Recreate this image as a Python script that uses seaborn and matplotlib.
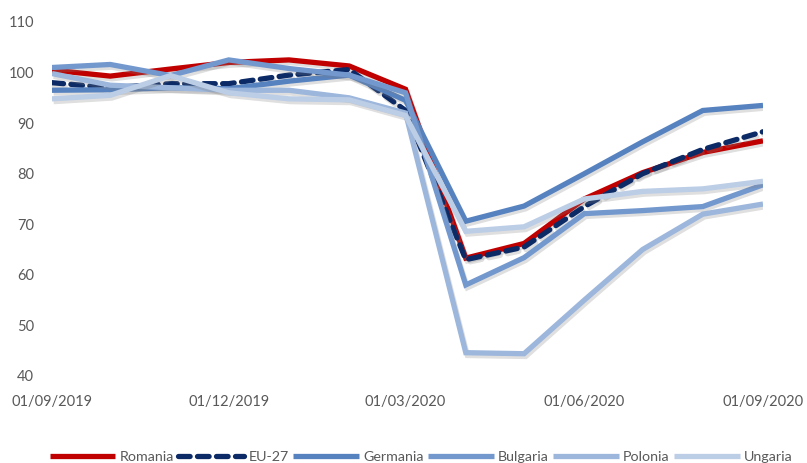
import matplotlib
matplotlib.use("Agg")
import matplotlib.pyplot as plt
import matplotlib.dates as mdates
import matplotlib.patheffects as pe
import numpy as np
import pandas as pd
import seaborn as sns

# ---- data ----
dates = pd.date_range("2019-09-01", "2020-09-01", freq="MS")
romania  = [100.5, 99.3, 100.7, 102.0, 102.5, 101.3, 96.7, 63.3, 66.2, 75.0, 80.2, 84.2, 86.5]
eu27     = [98.0, 97.0, 97.8, 97.8, 99.5, 100.6, 92.5, 63.0, 65.5, 73.5, 80.0, 84.8, 88.3]
germania = [96.5, 96.6, 97.0, 96.8, 98.3, 99.5, 94.5, 70.6, 73.6, 80.0, 86.3, 92.5, 93.5]
bulgaria = [101.0, 101.6, 99.4, 102.5, 100.8, 99.5, 96.0, 58.0, 63.4, 72.1, 72.7, 73.5, 77.8]
polonia  = [99.8, 97.5, 97.0, 96.5, 96.5, 95.0, 92.0, 44.6, 44.4, 55.0, 65.0, 72.0, 74.0]
ungaria  = [94.8, 95.5, 99.4, 96.0, 94.8, 94.6, 91.5, 68.6, 69.5, 75.0, 76.5, 77.0, 78.5]

series_names = ["Romania", "EU-27", "Germania", "Bulgaria", "Polonia", "Ungaria"]
series_values = [romania, eu27, germania, bulgaria, polonia, ungaria]
colors = ["#C00000", "#0B2A66", "#5682C0", "#7398CE", "#9CB6DC", "#BCCDE6"]
yticks = [40, 50, 60, 70, 80, 90, 100, 110]
xtick_dates = pd.to_datetime(["2019-09-01", "2019-12-01", "2020-03-01", "2020-06-01", "2020-09-01"])

df = pd.DataFrame({
    "date": np.tile(dates, len(series_names)),
    "value": np.concatenate(series_values),
    "series": np.repeat(series_names, len(dates)),
})

sns.set_style("white")
plt.rcParams["font.family"] = ["Lato", "DejaVu Sans"]

fig = plt.figure(figsize=(8.07, 4.63), dpi=100)
ax = fig.add_axes([0.0644, 0.188, 0.8811, 0.7645])

shadow = [pe.SimpleLineShadow(offset=(1.2, -2.0), shadow_color="#808080", alpha=0.25), pe.Normal()]

for name, col in zip(series_names, colors):
    sub = df[df["series"] == name]
    sns.lineplot(data=sub, x="date", y="value", ax=ax, color=col, linewidth=3.8,
                 label=name, legend=False)
    line = ax.lines[-1]
    line.set_path_effects(shadow)
    line.set_solid_capstyle("butt")
    line.set_solid_joinstyle("miter")
    if name == "EU-27":
        line.set_linestyle((0, (2.2, 1.4)))
        line.set_dash_capstyle("round")

ax.set_xlim(dates[0], dates[-1])
ax.set_ylim(40, 110)
ax.set_yticks(yticks)
ax.set_xticks(xtick_dates)
ax.xaxis.set_major_formatter(mdates.DateFormatter("%d/%m/%Y"))
ax.set_xlabel("")
ax.set_ylabel("")
for s in ax.spines.values():
    s.set_visible(False)
ax.tick_params(axis="both", length=0, colors="#595959", labelsize=10.5)
ax.tick_params(axis="y", pad=13)
ax.tick_params(axis="x", pad=14)
ax.grid(False)

handles = ax.lines
leg = fig.legend(handles=handles, labels=series_names, loc="lower center",
                 bbox_to_anchor=(0.522, -0.027), ncol=6, frameon=False,
                 fontsize=10.3, handlelength=4.6, columnspacing=0.3, handletextpad=0.3)
for t in leg.get_texts():
    t.set_color("#595959")
for lh in leg.get_lines():
    lh.set_path_effects([])

fig.savefig("out.png", dpi=100, facecolor="white")
